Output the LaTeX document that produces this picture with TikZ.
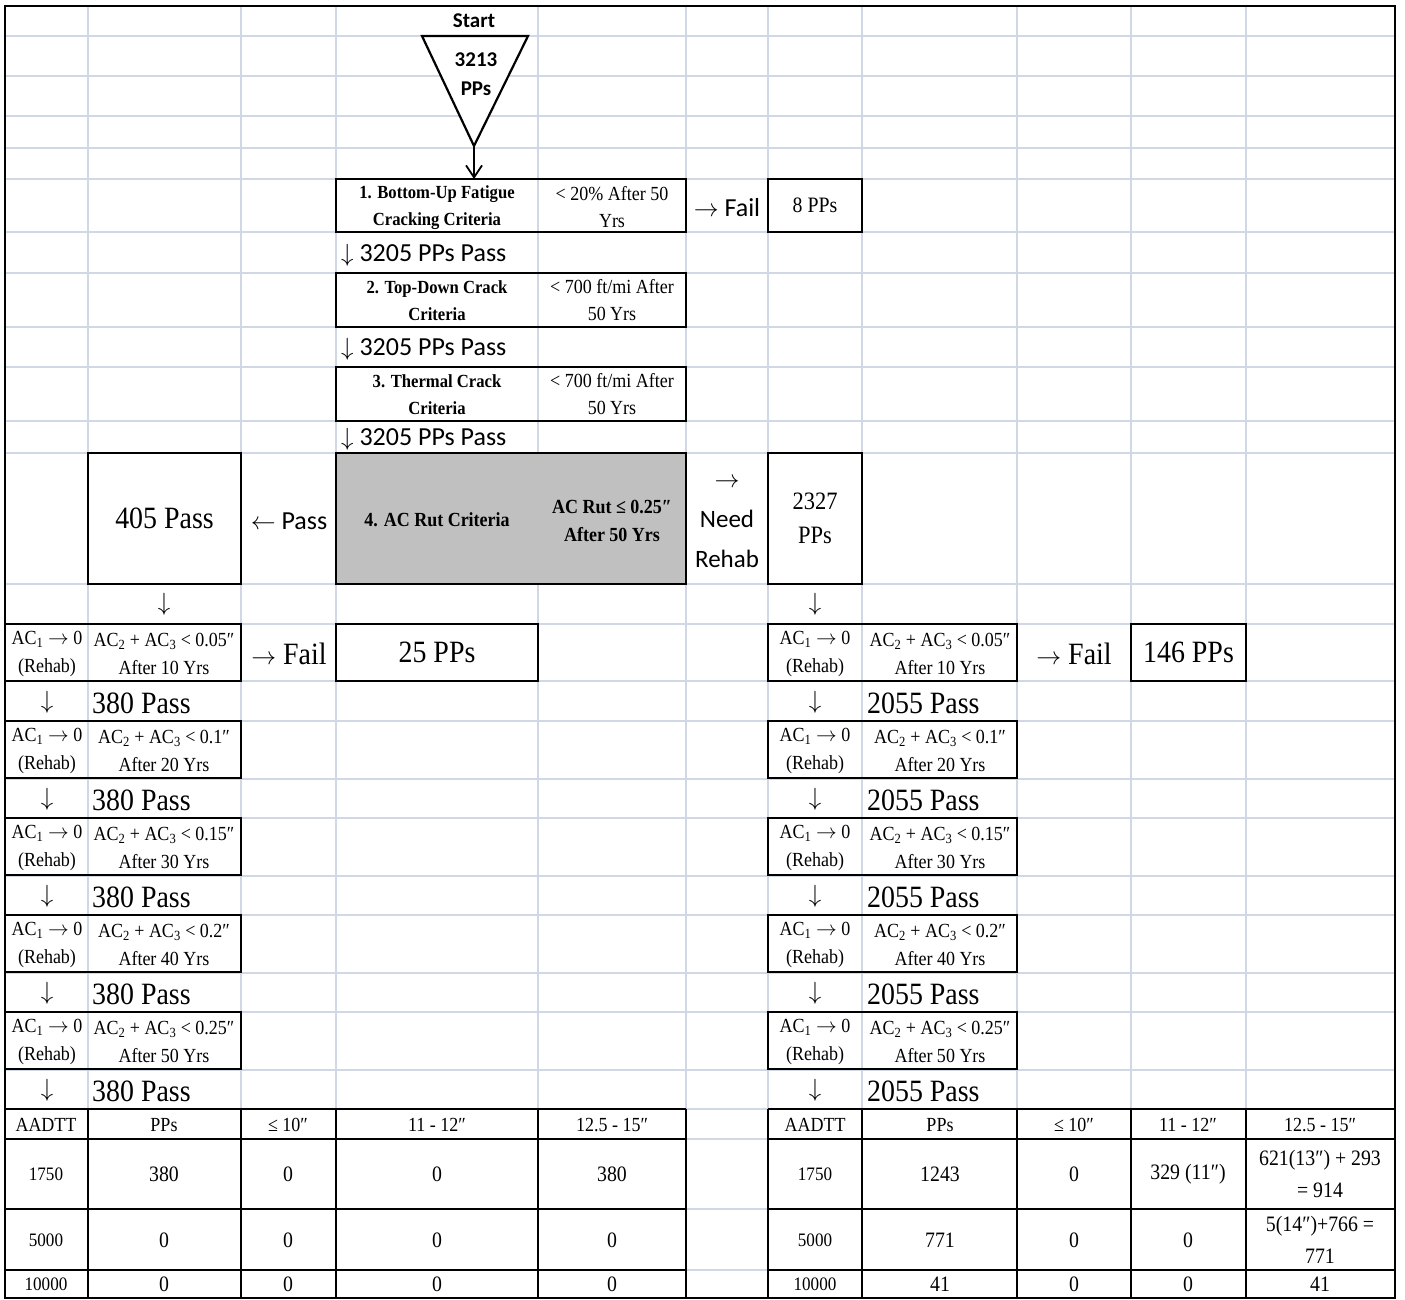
\documentclass[tikz,border=0pt]{standalone}
\usepackage{fontspec}
\usetikzlibrary{arrows.meta}
\setmainfont{Liberation Serif}[FakeStretch=0.9]
\newfontfamily\calfont{Carlito}
\newcommand{\fsz}[2]{\fontsize{#1}{#2}\selectfont}
\newcommand{\darr}{$\downarrow$}
\newcommand{\rarr}{$\rightarrow$}
\newcommand{\larr}{$\leftarrow$}
\definecolor{gridc}{RGB}{208,215,229}
\definecolor{rutgray}{RGB}{192,192,192}

\begin{document}
\begin{tikzpicture}[x=1pt,y=-1pt,
    grid/.style={draw=gridc,line width=1.8pt},
    tline/.style={draw=black,line width=1.8pt},
    box/.style={draw,line width=2pt,anchor=north west,inner sep=0pt,outer sep=0pt},
    crit/.style={font=\bfseries\fsz{18.5}{27},align=center,inner sep=0pt},
    cond/.style={font=\fsz{20}{27},align=center,inner sep=0pt},
    cal/.style={font=\calfont\fsz{26}{30},align=center,inner sep=0pt},
    big/.style={font=\fsz{31}{34},align=center,inner sep=0pt},
    ac/.style={font=\fsz{20}{28},align=center,inner sep=0pt},
    tabh/.style={font=\fsz{20}{22},inner sep=0pt},
    tab/.style={font=\fsz{22}{32},align=center,inner sep=0pt},
    tabs/.style={font=\fsz{19}{22},inner sep=0pt}]
\useasboundingbox (0,0) rectangle (1405,1300);
\fill[white] (0,0) rectangle (1405,1300);
\foreach \x in {88,241,336,538,686,768,862,1017,1131,1246}
  \draw[grid] (\x,6) -- (\x,1298);
\foreach \y in {36,76,116,148,179,232,273,327,367,421,453,584,624,681,721,779,818,876,915,973,1012,1070,1109,1139,1209,1270}
  \draw[grid] (5,\y) -- (1395,\y);
\draw[line width=2pt] (5,6) rectangle (1395,1298);

\node[font=\calfont\bfseries\fsz{21}{26}] (start) at (474,21) {Start};
\draw[line width=2.2pt,fill=white] (422,36) -- (528,36) -- (474,146) -- cycle;
\coordinate (tip) at (474,146);
\node[font=\calfont\bfseries\fsz{21}{29},align=center] (total) at (476,74) {3213\\PPs};

\node[box,minimum width=350,minimum height=53] (b1) at (336,179) {};
\node[crit] (b1a) at (437,208) {1. Bottom-Up Fatigue\\Cracking Criteria};
\node[cond] (b1b) at (612,207) {< 20\% After 50\\Yrs};
\draw[line width=1.8pt,-{Straight Barb[length=12pt,width=16pt]}] (tip) -- (tip |- b1.north);
\node[cal] (f1) at (727,208) {\rarr\ Fail};
\node[box,minimum width=94,minimum height=53,font=\fsz{22}{24}] (n8) at (768,179) {8 PPs};

\node[cal,anchor=west] (pass1) at (341,255) {\darr\ 3205 PPs Pass};
\node[box,minimum width=350,minimum height=54] (b2) at (336,273) {};
\node[crit] (b2a) at (437,301) {2. Top-Down Crack\\Criteria};
\node[cond] (b2b) at (612,300) {< 700 ft/mi After\\50 Yrs};
\node[cal,anchor=west] (pass2) at (341,349) {\darr\ 3205 PPs Pass};
\node[box,minimum width=350,minimum height=54] (b3) at (336,367) {};
\node[crit] (b3a) at (437,395) {3. Thermal Crack\\Criteria};
\node[cond] (b3b) at (612,394) {< 700 ft/mi After\\50 Yrs};
\node[cal,anchor=west] (pass3) at (341,439) {\darr\ 3205 PPs Pass};

\node[box,fill=rutgray,minimum width=350,minimum height=131] (b4) at (336,453) {};
\node[crit,font=\bfseries\fsz{20}{27}] (b4a) at (437,520) {4. AC Rut Criteria};
\node[crit,font=\bfseries\fsz{20}{28}] (b4b) at (612,521) {AC Rut ≤ 0.25″\\After 50 Yrs};
\node[font=\calfont\fsz{26}{30}] (lpass) at (289,521) {\larr\ Pass};
\node[box,minimum width=153,minimum height=131,font=\fsz{31}{34}] (p405) at (88,453) {405 Pass};
\node[font=\calfont\fsz{25}{40},align=center] (rehab) at (727,523) {\rarr\\Need\\Rehab};
\node[box,minimum width=94,minimum height=131,font=\fsz{25}{34},align=center] (p2327) at (768,453) {2327\\PPs};

\node[big] (ldown) at (164,604) {\darr};
\node[big] (rdown) at (815,604) {\darr};

\foreach \t/\lim/\yr in {624/0.05/10,721/0.1/20,818/0.15/30,915/0.2/40,1012/0.25/50}{
  \node[box,minimum width=236,minimum height=57] (lbox\yr) at (5,\t) {};
  \node[ac] (lreh\yr) at (47,\t+30) {AC\textsubscript{1} \rarr\ 0\\(Rehab)};
  \node[ac] (lcrit\yr) at (164,\t+30) {AC\textsubscript{2} + AC\textsubscript{3} < \lim″\\After \yr{} Yrs};
  \node[big] (larr\yr) at (47,\t+78) {\darr};
  \node[big,anchor=west] (lpass\yr) at (92,\t+79) {380 Pass};
  \node[box,minimum width=249,minimum height=57] (rbox\yr) at (768,\t) {};
  \node[ac] (rreh\yr) at (815,\t+30) {AC\textsubscript{1} \rarr\ 0\\(Rehab)};
  \node[ac] (rcrit\yr) at (940,\t+30) {AC\textsubscript{2} + AC\textsubscript{3} < \lim″\\After \yr{} Yrs};
  \node[big] (rarr\yr) at (815,\t+78) {\darr};
  \node[big,anchor=west] (rpass\yr) at (867,\t+79) {2055 Pass};
}

\node[big] (lfail) at (289,654) {\rarr\ Fail};
\node[box,minimum width=202,minimum height=57,font=\fsz{31}{34}] (l25) at (336,624) {25 PPs};
\node[big] (rfail) at (1074,654) {\rarr\ Fail};
\node[box,minimum width=115,minimum height=57,font=\fsz{31}{34}] (r146) at (1131,624) {146 PPs};

\foreach \x in {5,88,241,336,538,686,768,862,1017,1131,1246,1395}
  \draw[tline] (\x,1109) -- (\x,1298);
\foreach \y in {1109,1139,1209,1270,1298}{
  \draw[tline] (5,\y) -- (686,\y);
  \draw[tline] (768,\y) -- (1395,\y);
}
\foreach \x/\h [count=\k] in {46/AADTT,164/PPs,288/{≤ 10″},437/{11 - 12″},612/{12.5 - 15″}}
  \node[tabh] (lhead\k) at (\x,1125) {\h};
\foreach \x/\h [count=\k] in {815/AADTT,940/PPs,1074/{≤ 10″},1188/{11 - 12″},1320/{12.5 - 15″}}
  \node[tabh] (rhead\k) at (\x,1125) {\h};
\foreach \y/\a/\b/\c/\d/\e [count=\k] in {1174/1750/380/0/0/380,1240/5000/0/0/0/0,1284/10000/0/0/0/0}{
  \node[tabs] (lval\k a) at (46,\y) {\a};
  \node[tab] (lval\k b) at (164,\y) {\b};
  \node[tab] (lval\k c) at (288,\y) {\c};
  \node[tab] (lval\k d) at (437,\y) {\d};
  \node[tab] (lval\k e) at (612,\y) {\e};
}
\foreach \y/\a/\b/\c/\d/\e [count=\k] in {1174/1750/1243/0/{329 (11″)}/{621(13″) + 293\\= 914},1240/5000/771/0/0/{5(14″)+766 =\\771},1284/10000/41/0/0/41}{
  \node[tabs] (rval\k a) at (815,\y) {\a};
  \node[tab] (rval\k b) at (940,\y) {\b};
  \node[tab] (rval\k c) at (1074,\y) {\c};
  \node[tab] (rval\k d) at (1188,\y) {\d};
  \node[tab] (rval\k e) at (1320,\y) {\e};
}
\end{tikzpicture}
\end{document}
